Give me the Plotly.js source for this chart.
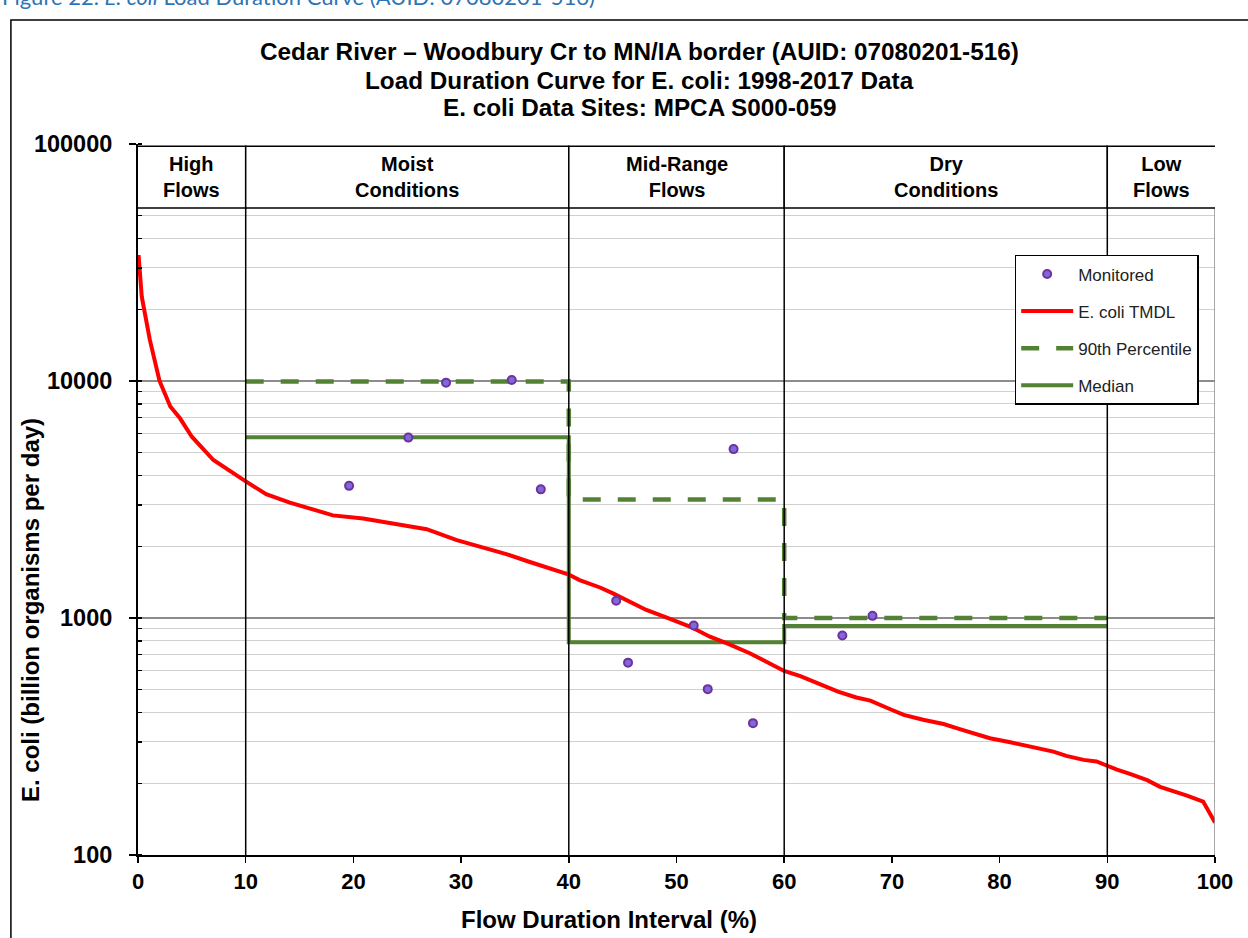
<!DOCTYPE html>
<html>
<head>
<meta charset="utf-8">
<script src="https://cdn.plot.ly/plotly-3.0.1.min.js"></script>
<style>
  html, body { margin: 0; padding: 0; background: #fff; }
  #chart { width: 1248px; height: 938px; }
</style>
</head>
<body>
<div id="chart"></div>
<script>
// ---------- data ----------
const flowPct = [0.05, 0.35, 1.1, 2.0, 3.0, 3.9, 5.0, 7.0, 9.9, 11.9, 14.1, 17.2, 18.1, 20.9, 22.8, 24.3, 26.8, 29.6, 32.7, 34.2, 36.1, 37.9, 39.95, 41.0, 42.9, 44.1, 45.4, 47.2, 49.1, 51.3, 53.1, 54.7, 56.8, 58.7, 60.0, 61.5, 63.6, 65.0, 66.7, 68.0, 69.8, 71.1, 72.9, 74.8, 76.3, 78.2, 79.1, 81.0, 82.8, 85.0, 86.2, 87.8, 89.0, 89.9, 90.9, 92.1, 93.7, 94.9, 96.1, 97.4, 98.9, 100];
const tmdlLoad = [34000, 22700, 14900, 10000, 7800, 6960, 5820, 4640, 3800, 3330, 3070, 2770, 2710, 2630, 2550, 2470, 2370, 2130, 1950, 1860, 1740, 1645, 1530, 1446, 1345, 1270, 1183, 1081, 1003, 918, 834, 782, 710, 644, 598, 568, 521, 489, 462, 448, 413, 390, 372, 357, 340, 321, 311, 299, 287, 273, 262, 252, 248, 238, 229, 220, 207, 194, 187, 178, 168, 137];

const monPct  = [19.6, 25.1, 28.6, 34.7, 37.4, 44.4, 45.5, 51.6, 52.9, 55.3, 57.1, 65.4, 68.2];
const monLoad = [3610, 5770, 9840, 10090, 3490, 1183, 648, 929, 501, 5160, 360, 844, 1021];

const zoneEdges  = [0, 10, 40, 60, 90, 100];
const zoneLine1  = ['High', 'Moist', 'Mid-Range', 'Dry', 'Low'];
const zoneLine2  = ['Flows', 'Conditions', 'Flows', 'Conditions', 'Flows'];
const p90Load    = [9940, 3160, 1000];   // Moist, Mid-Range, Dry
const medianLoad = [5790, 790, 925];

const yTickVals = [100, 1000, 10000, 100000];
const yTickText = ['100', '1000', '10000', '100000'];
const xTickVals = [0, 10, 20, 30, 40, 50, 60, 70, 80, 90, 100];

const titleLines = [
  'Cedar River \u2013 Woodbury Cr to MN/IA border (AUID: 07080201-516)',
  'Load Duration Curve for E. coli: 1998-2017 Data',
  'E. coli Data Sites: MPCA S000-059'
];
const captionText = 'Figure 22. <i>E. coli</i> Load Duration Curve (AUID: 07080201-516)';
const xTitle = 'Flow Duration Interval (%)';
const yTitle = 'E. coli (billion organisms per day)';

// ---------- styling ----------
const FONT = 'Liberation Sans, Arial, sans-serif';
const GREEN = '#548235';

// step series across the three monitored zones
const stepX = zoneEdges.slice(1, 5);
const p90Y = p90Load.concat([p90Load[p90Load.length - 1]]);
const medY = medianLoad.concat([medianLoad[medianLoad.length - 1]]);

const traces = [
  {
    x: stepX, y: medY, type: 'scatter', mode: 'lines', name: 'Median',
    line: { color: GREEN, width: 4, shape: 'hv' },
    legendgroup: 'd', legendrank: 4
  },
  {
    x: stepX, y: p90Y, type: 'scatter', mode: 'lines', name: '90th Percentile',
    line: { color: GREEN, width: 4.5, shape: 'hv', dash: '18px,17px' },
    legendgroup: 'c', legendrank: 3
  },
  {
    x: flowPct, y: tmdlLoad, type: 'scatter', mode: 'lines', name: 'E. coli TMDL',
    line: { color: '#ff0000', width: 4 },
    legendgroup: 'b', legendrank: 2
  },
  {
    x: monPct, y: monLoad, type: 'scatter', mode: 'markers', name: 'Monitored',
    marker: { size: 8, color: '#7b6ad8', line: { color: '#7030a0', width: 2 } },
    legendgroup: 'a', legendrank: 1
  }
];

const shapes = [];
// zone boundary lines
for (let i = 1; i < zoneEdges.length - 1; i++) {
  shapes.push({ type: 'line', xref: 'x', yref: 'paper', x0: zoneEdges[i], x1: zoneEdges[i], y0: 0, y1: 0.91,
    line: { color: '#000', width: 1.5 } });
}
// right border of plot
shapes.push({ type: 'line', xref: 'x', yref: 'paper', x0: 100, x1: 100, y0: 0, y1: 0.91,
  line: { color: '#8c8c8c', width: 1.5 } });
// zone header boxes
for (let i = 0; i < zoneEdges.length - 1; i++) {
  const x0 = i === 0 ? zoneEdges[i] - 0.2 : zoneEdges[i];
  const x1 = i === zoneEdges.length - 2 ? zoneEdges[i + 1] + 0.3 : zoneEdges[i + 1];
  shapes.push({ type: 'rect', xref: 'x', yref: 'paper', x0: x0, x1: x1, y0: 0.91, y1: 0.997,
    fillcolor: '#fff', line: { color: '#000', width: 1.5 } });
}
// outer frame
shapes.push({ type: 'rect', xref: 'paper', yref: 'paper', x0: -0.118, x1: 1.08, y0: -0.13, y1: 1.1744,
  line: { color: '#000', width: 1.5 }, fillcolor: 'rgba(0,0,0,0)' });

const annotations = [];
const titleY = [1.1294, 1.0900, 1.0520];
titleLines.forEach((t, i) => annotations.push({
  text: t, xref: 'paper', yref: 'paper', x: 0.4657, y: titleY[i], xanchor: 'center', yanchor: 'middle',
  showarrow: false, font: { family: FONT, size: 24.3, weight: 'bold', color: '#000' }
}));
for (let i = 0; i < zoneLine1.length; i++) {
  annotations.push({
    text: zoneLine1[i] + '<br>' + zoneLine2[i], xref: 'x', yref: 'paper',
    x: (zoneEdges[i] + zoneEdges[i + 1]) / 2, y: 0.954, xanchor: 'center', yanchor: 'middle',
    showarrow: false, font: { family: FONT, size: 20, weight: 'bold', color: '#000' }
  });
}
annotations.push({
  text: xTitle, xref: 'paper', yref: 'paper', x: 0.437, y: -0.0914, xanchor: 'center', yanchor: 'middle',
  showarrow: false, font: { family: FONT, size: 24, weight: 'bold', color: '#000' }
});
annotations.push({
  text: yTitle, xref: 'paper', yref: 'paper', x: -0.1, y: 0.345, xanchor: 'center', yanchor: 'middle',
  textangle: -90, showarrow: false, font: { family: FONT, size: 24, weight: 'bold', color: '#000' }
});
annotations.push({
  text: captionText, xref: 'paper', yref: 'paper', x: -0.128, y: 1.2075, xanchor: 'left', yanchor: 'middle',
  showarrow: false, font: { family: 'Lato, Open Sans, sans-serif', size: 22, color: '#2e74b5' }
});

const layout = {
  width: 1248, height: 938,
  margin: { l: 138, r: 33, t: 144, b: 83 },
  paper_bgcolor: '#fff', plot_bgcolor: '#fff',
  showlegend: true,
  legend: {
    x: 0.814, y: 0.844, xanchor: 'left', yanchor: 'top',
    bgcolor: '#fff', bordercolor: '#000', borderwidth: 1.5,
    font: { family: FONT, size: 17, color: '#222' },
    itemwidth: 52, traceorder: 'grouped', tracegroupgap: 12
  },
  xaxis: {
    range: [0, 100], tickvals: xTickVals, ticks: 'outside', ticklen: 6, tickwidth: 1.5, tickcolor: '#000',
    showgrid: false, zeroline: false, showline: true, linecolor: '#000', linewidth: 2,
    tickfont: { family: FONT, size: 22, weight: 'bold', color: '#000' }
  },
  yaxis: {
    type: 'log', range: [2, 5], tickvals: yTickVals, ticktext: yTickText,
    ticks: 'outside', ticklen: 7, tickwidth: 1.5, tickcolor: '#000', ticklabelstandoff: 12,
    showgrid: true, gridcolor: '#8c8c8c', gridwidth: 1.2,
    showline: true, linecolor: '#000', linewidth: 2, zeroline: false,
    tickfont: { family: FONT, size: 23.5, weight: 'bold', color: '#000' },
    minor: { dtick: 'D1', ticks: 'inside', ticklen: 4, tickcolor: '#000', tickwidth: 1.2,
      showgrid: true, gridcolor: '#d0d0d0', gridwidth: 1 }
  },
  shapes: shapes,
  annotations: annotations
};

Plotly.newPlot('chart', traces, layout, { displayModeBar: false, staticPlot: true });
</script>
</body>
</html>
